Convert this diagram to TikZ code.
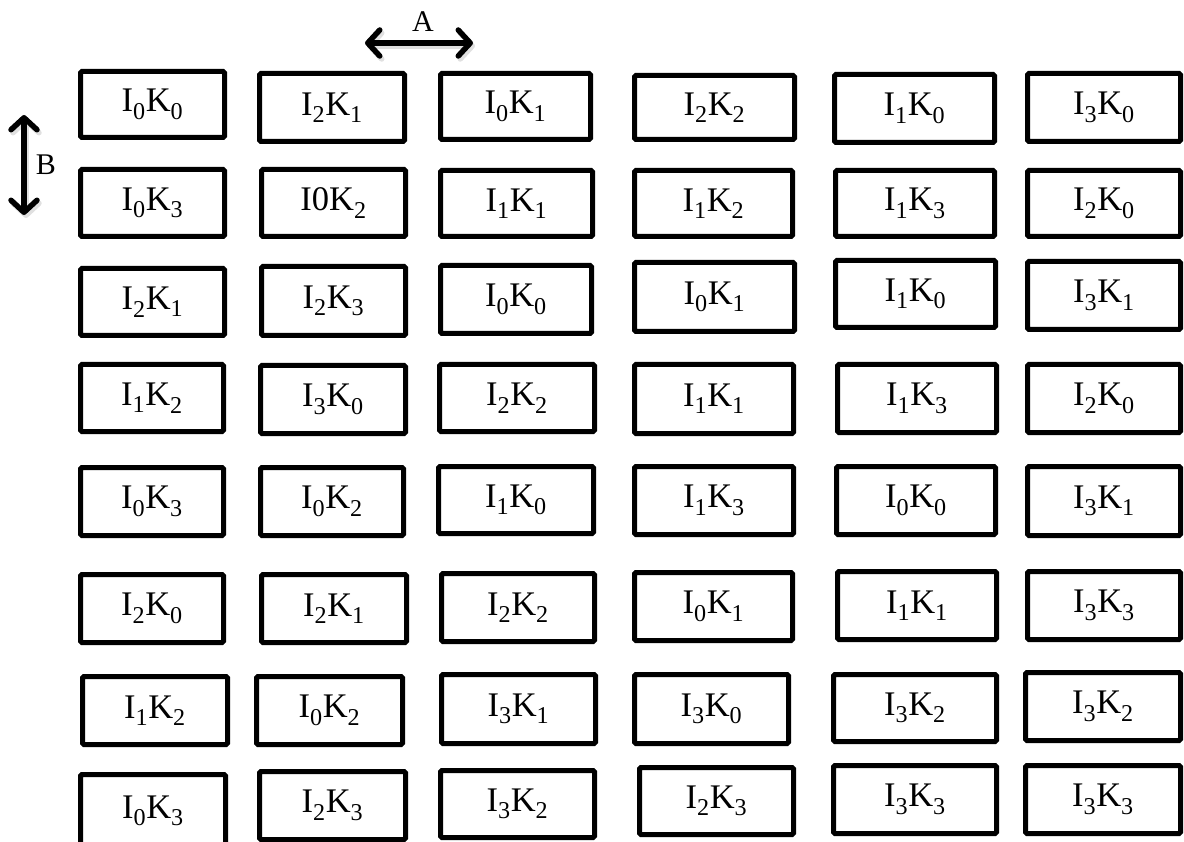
\documentclass[tikz,border=0pt]{standalone}
\usepackage{fontspec}
\setmainfont{Liberation Serif}
\usetikzlibrary{arrows.meta}
\newcommand\IK[2]{I\textsubscript{#1}K\textsubscript{#2}}
\newcommand\cellbox[6]{\node[cell, minimum width={#4pt-#2pt-5pt}, minimum height={#5pt-#3pt-5pt}] (#1) at ({(#2+#4)/2},{(#3+#5)/2}) {#6};}
\tikzset{
  cell/.style={draw, line width=5pt, rounded corners=1.5pt, inner sep=0pt, fill=white,
    font=\fontsize{34.5}{40}\selectfont},
  dirarrow/.style={line width=5.5pt, {Straight Barb[length=12pt,width=26pt,round]}-{Straight Barb[length=12pt,width=26pt,round]}},
  dirshadow/.style={dirarrow, draw=black!12},
  dirlabel/.style={font=\fontsize{30}{34}\selectfont, inner sep=0pt}
}
\begin{document}
\begin{tikzpicture}[x=1pt,y=-1pt]
\useasboundingbox (0,0) rectangle (1184,842);
% direction arrows
\coordinate (a1) at (365,43);
\coordinate (a2) at (473,43);
\coordinate (b1) at (24,115);
\coordinate (b2) at (24,215);
\draw[dirshadow] ([shift={(2,3)}]a1) -- ([shift={(2,3)}]a2);
\draw[dirshadow] ([shift={(2,3)}]b1) -- ([shift={(2,3)}]b2);
\draw[dirarrow] (a1) -- (a2);
\draw[dirarrow] (b1) -- (b2);
\node[dirlabel] (A) at (423,22) {A};
\node[dirlabel] (B) at (46,165) {B};
% row 1
\cellbox{r1c1}{78}{69}{227}{140}{\IK00}
\cellbox{r1c2}{257}{71}{407}{144}{\IK21}
\cellbox{r1c3}{438}{71}{593}{142}{\IK01}
\cellbox{r1c4}{632}{73}{797}{142}{\IK22}
\cellbox{r1c5}{832}{72}{997}{145}{\IK10}
\cellbox{r1c6}{1025}{71}{1183}{144}{\IK30}
% row 2
\cellbox{r2c1}{78}{167}{227}{239}{\IK03}
\cellbox{r2c2}{259}{167}{408}{239}{I0K\textsubscript{2}}
\cellbox{r2c3}{438}{168}{595}{239}{\IK11}
\cellbox{r2c4}{632}{168}{795}{239}{\IK12}
\cellbox{r2c5}{833}{168}{997}{239}{\IK13}
\cellbox{r2c6}{1025}{168}{1183}{239}{\IK20}
% row 3
\cellbox{r3c1}{78}{266}{227}{338}{\IK21}
\cellbox{r3c2}{259}{264}{408}{338}{\IK23}
\cellbox{r3c3}{438}{263}{594}{336}{\IK00}
\cellbox{r3c4}{632}{260}{797}{334}{\IK01}
\cellbox{r3c5}{833}{258}{998}{330}{\IK10}
\cellbox{r3c6}{1025}{259}{1183}{332}{\IK31}
% row 4
\cellbox{r4c1}{78}{362}{226}{434}{\IK12}
\cellbox{r4c2}{258}{363}{408}{436}{\IK30}
\cellbox{r4c3}{437}{362}{597}{434}{\IK22}
\cellbox{r4c4}{632}{362}{796}{436}{\IK11}
\cellbox{r4c5}{835}{362}{999}{435}{\IK13}
\cellbox{r4c6}{1025}{362}{1183}{435}{\IK20}
% row 5
\cellbox{r5c1}{78}{465}{226}{538}{\IK03}
\cellbox{r5c2}{258}{465}{406}{538}{\IK02}
\cellbox{r5c3}{436}{464}{596}{536}{\IK10}
\cellbox{r5c4}{632}{464}{796}{537}{\IK13}
\cellbox{r5c5}{834}{464}{998}{537}{\IK00}
\cellbox{r5c6}{1025}{464}{1183}{538}{\IK31}
% row 6
\cellbox{r6c1}{78}{572}{226}{645}{\IK20}
\cellbox{r6c2}{259}{572}{409}{645}{\IK21}
\cellbox{r6c3}{439}{571}{597}{644}{\IK22}
\cellbox{r6c4}{632}{570}{795}{643}{\IK01}
\cellbox{r6c5}{835}{569}{999}{642}{\IK11}
\cellbox{r6c6}{1025}{569}{1183}{642}{\IK33}
% row 7
\cellbox{r7c1}{80}{674}{230}{747}{\IK12}
\cellbox{r7c2}{254}{674}{405}{747}{\IK02}
\cellbox{r7c3}{439}{672}{598}{746}{\IK31}
\cellbox{r7c4}{632}{672}{791}{746}{\IK30}
\cellbox{r7c5}{831}{672}{999}{744}{\IK32}
\cellbox{r7c6}{1023}{670}{1183}{743}{\IK32}
% row 8
\cellbox{r8c1}{78}{772}{228}{850}{\IK03}
\cellbox{r8c2}{257}{769}{408}{842}{\IK23}
\cellbox{r8c3}{438}{768}{597}{840}{\IK32}
\cellbox{r8c4}{637}{765}{796}{837}{\IK23}
\cellbox{r8c5}{831}{763}{999}{836}{\IK33}
\cellbox{r8c6}{1023}{763}{1183}{836}{\IK33}
\end{tikzpicture}
\end{document}
